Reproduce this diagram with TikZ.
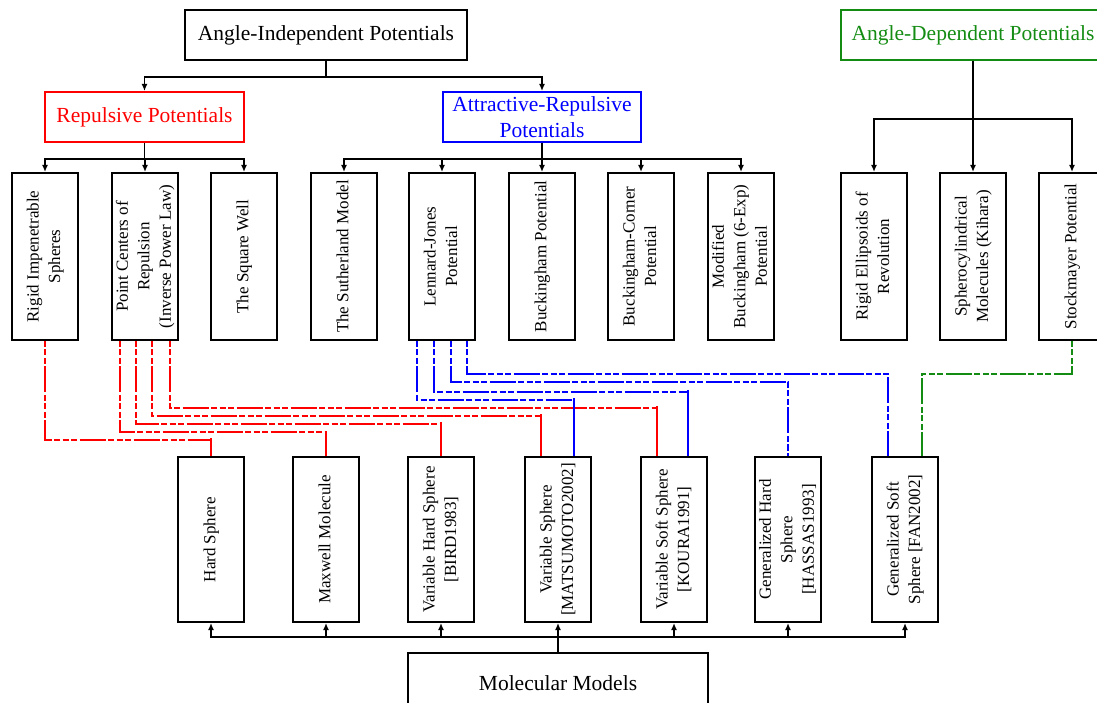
\documentclass[tikz,border=0pt]{standalone}
\usepackage{fontspec}
\setmainfont{Liberation Serif}
\usepackage{graphicx}
\usetikzlibrary{arrows.meta}
\definecolor{dgreen}{RGB}{20,140,20}

\tikzset{
  box/.style={draw, line width=2pt, inner sep=2pt, align=center, font=\fontsize{21.5}{26}\selectfont},
  vbox/.style={draw, line width=2pt, minimum width=66pt, minimum height=167pt, inner sep=0pt, font=\fontsize{17}{21.5}\selectfont},
  mbox/.style={vbox, minimum height=165pt},
  arr/.style={line width=1.8pt, -{Latex[length=7pt,width=6pt]}},
  link/.style={line width=1.8pt, dash pattern=on 6pt off 2.5pt on 6pt off 2.5pt on 6pt off 2.5pt on 26pt off 2.5pt},
  rlink/.style={link, red},
  blink/.style={link, blue},
  glink/.style={link, dgreen},
  rdrop/.style={line width=1.8pt, red},
  bdrop/.style={line width=1.8pt, blue},
}
\newcommand{\vlabel}[1]{\rotatebox{90}{\begin{tabular}{@{}c@{}}#1\end{tabular}}}

\begin{document}
\begin{tikzpicture}[x=1pt,y=1pt]
\clip (0,0) rectangle (1097,702);

% top level
\node[box, minimum width=282pt, minimum height=50pt] (aip) at (326,667) {Angle-Independent Potentials};
\node[box, dgreen, minimum width=264pt, minimum height=50pt] (adp) at (973,667) {Angle-Dependent Potentials};
\node[box, red, minimum width=199pt, minimum height=50pt] (rep) at (144.5,585) {Repulsive Potentials};
\node[box, blue, minimum width=198pt, minimum height=50pt] (att) at (542,585) {Attractive-Repulsive\\Potentials};

% potentials
\node[vbox] (rig) at (45,445.5) {\vlabel{Rigid Impenetrable\\Spheres}};
\node[vbox] (pcr) at (145,445.5) {\vlabel{Point Centers of\\Repulsion\\(Inverse Power Law)}};
\node[vbox] (sqw) at (244,445.5) {\vlabel{The Square Well}};
\node[vbox] (sut) at (344,445.5) {\vlabel{The Sutherland Model}};
\node[vbox] (lj) at (442,445.5) {\vlabel{Lennard-Jones\\Potential}};
\node[vbox] (buck) at (542,445.5) {\vlabel{Buckingham Potential}};
\node[vbox] (bc) at (641,445.5) {\vlabel{Buckingham-Corner\\Potential}};
\node[vbox] (mb) at (741,445.5) {\vlabel{Modified\\Buckingham (6-Exp)\\Potential}};
\node[vbox] (rer) at (874,445.5) {\vlabel{Rigid Ellipsoids of\\Revolution}};
\node[vbox] (sph) at (973,445.5) {\vlabel{Spherocylindrical\\Molecules (Kihara)}};
\node[vbox] (stock) at (1072,445.5) {\vlabel{Stockmayer Potential}};

% molecular models
\node[mbox] (hs) at (211,162.5) {\vlabel{Hard Sphere}};
\node[mbox] (mm) at (326,162.5) {\vlabel{Maxwell Molecule}};
\node[mbox] (vhs) at (441,162.5) {\vlabel{Variable Hard Sphere\\{[BIRD1983]}}};
\node[mbox] (vs) at (558,162.5) {\vlabel{Variable Sphere\\{[MATSUMOTO2002]}}};
\node[mbox] (vss) at (674,162.5) {\vlabel{Variable Soft Sphere\\{[KOURA1991]}}};
\node[mbox] (ghs) at (788,162.5) {\vlabel{Generalized Hard\\Sphere\\{[HASSAS1993]}}};
\node[mbox] (gss) at (905,162.5) {\vlabel{Generalized Soft\\Sphere [FAN2002]}};
\node[box, minimum width=300pt, minimum height=60pt] (mol) at (558,19) {Molecular Models};

% tree arrows
\draw[arr] (aip.south) -- ++(0,-16) -| (rep.north);
\draw[arr] (aip.south) -- ++(0,-16) -| (att.north);
\foreach \n in {rig,pcr,sqw}
  \draw[arr] (rep.south) -- ++(0,-16) -| (\n.north);
\foreach \n in {sut,lj,buck,bc,mb}
  \draw[arr] (att.south) -- ++(0,-16) -| (\n.north);
\foreach \n in {rer,sph,stock}
  \draw[arr] (adp.south) -- ++(0,-58) -| (\n.north);
\foreach \n in {hs,mm,vhs,vs,vss,ghs,gss}
  \draw[arr] (mol.north) -- ++(0,15) -| (\n.south);

% repulsive links
\draw[rlink] (rig.south) -- ++(0,-99) -| (hs.north);
\draw[rlink] ([xshift=-25pt]pcr.south) -- ++(0,-91) -| (mm.north);
\draw[rlink] ([xshift=-9pt]pcr.south) -- ++(0,-83) -| (vhs.north);
\draw[rlink] ([xshift=7pt]pcr.south) -- ++(0,-75) -| ([xshift=-17pt]vs.north);
\draw[rlink] ([xshift=25pt]pcr.south) -- ++(0,-67) -| ([xshift=-17pt]vss.north);

% attractive-repulsive links
\draw[blink] ([xshift=-25pt]lj.south) -- ++(0,-59) -| ([xshift=16pt]vs.north);
\draw[blink] ([xshift=-8pt]lj.south) -- ++(0,-51) -| ([xshift=14pt]vss.north);
\draw[blink] ([xshift=9pt]lj.south) -- ++(0,-41) -| (ghs.north);
\draw[blink] ([xshift=25pt]lj.south) -- ++(0,-33) -| ([xshift=-17pt]gss.north);

% angle dependent link
\draw[glink] (stock.south) -- ++(0,-33) -| ([xshift=17pt]gss.north);

% solid drops
\draw[rdrop] (hs.north) -- ++(0,18);
\draw[rdrop] (vhs.north) -- ++(0,34);
\draw[rdrop] ([xshift=-17pt]vs.north) -- ++(0,42);
\draw[rdrop] ([xshift=-17pt]vss.north) -- ++(0,50);
\draw[bdrop] ([xshift=16pt]vs.north) -- ++(0,58);
\draw[bdrop] ([xshift=14pt]vss.north) -- ++(0,66);
\end{tikzpicture}
\end{document}
